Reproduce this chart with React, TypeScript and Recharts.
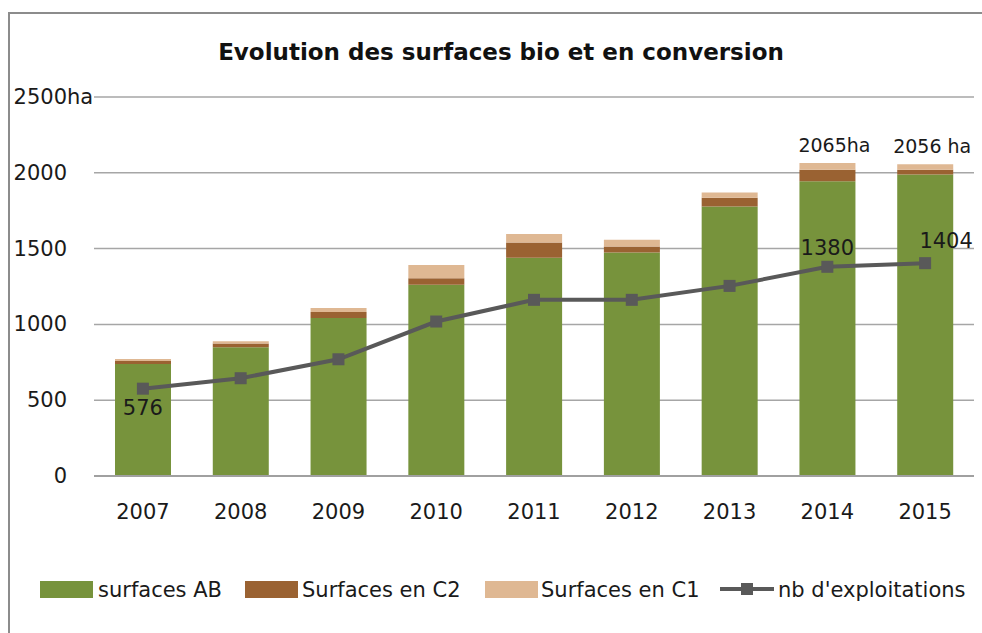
import React from 'react';
import { ComposedChart, Bar, Line, XAxis, YAxis, CartesianGrid, LabelList } from 'recharts';

const categories = ['2007', '2008', '2009', '2010', '2011', '2012', '2013', '2014', '2015'];
const surfacesAB = [739, 850, 1043, 1261, 1439, 1474, 1778, 1945, 1989];
const surfacesC2 = [20, 24, 39, 44, 101, 40, 57, 75, 31];
const surfacesC1 = [13, 15, 27, 86, 57, 44, 35, 45, 36];
const exploitations = [576, 645, 770, 1019, 1162, 1162, 1254, 1380, 1404];
const lineLabels = ['576', '', '', '', '', '', '', '1380', '1404'];
const totalLabels = ['', '', '', '', '', '', '', '2065ha', '2056 ha'];
const yTicks = [0, 500, 1000, 1500, 2000, 2500];
const seriesNames = ['surfaces AB', 'Surfaces en C2', 'Surfaces en C1', "nb d'exploitations"];

const data = categories.map((c, i) => ({
  year: c,
  ab: surfacesAB[i],
  c2: surfacesC2[i],
  c1: surfacesC1[i],
  nb: exploitations[i],
}));

const FONT = '"DejaVu Sans", sans-serif';
const GREEN = '#77933c';
const BROWN = '#9a6232';
const TAN = '#dfb893';
const LINE = '#595959';
const TEXT = '#1a1a1a';

const YTick = (props: any) => {
  const { y, payload } = props;
  const v = payload.value;
  return (
    <g>
      <text x={67} y={y} textAnchor="end" dominantBaseline="central" fontFamily={FONT} fontSize={21} fill={TEXT}>
        {String(v)}
      </text>
      {v === 2500 ? (
        <text x={67} y={y} textAnchor="start" dominantBaseline="central" fontFamily={FONT} fontSize={21} fill={TEXT}>
          ha
        </text>
      ) : null}
    </g>
  );
};

const XTick = (props: any) => {
  const { x, payload } = props;
  return (
    <text x={x} y={512} textAnchor="middle" dominantBaseline="central" fontFamily={FONT} fontSize={21} fill={TEXT}>
      {payload.value}
    </text>
  );
};

const lineLabelOffset = (i: number) => {
  if (i === 0) return { dx: 0, dy: 19 };
  if (i === categories.length - 1) return { dx: 21, dy: -22 };
  return { dx: 0, dy: -19 };
};

const LineLabel = (props: any) => {
  const { x, y, index } = props;
  const t = lineLabels[index];
  if (!t) return null;
  const o = lineLabelOffset(index);
  return (
    <text x={x + o.dx} y={y + o.dy} textAnchor="middle" dominantBaseline="central" fontFamily={FONT} fontSize={21} fill={TEXT}>
      {t}
    </text>
  );
};

const TotalLabel = (props: any) => {
  const { x, y, width, index } = props;
  const t = totalLabels[index];
  if (!t) return null;
  return (
    <text x={x + width / 2 + 7} y={y - 18} textAnchor="middle" dominantBaseline="central" fontFamily={FONT} fontSize={19} fill={TEXT}>
      {t}
    </text>
  );
};

const SquareDot = (props: any) => {
  const { cx, cy } = props;
  if (cx == null || cy == null) return null;
  return <rect x={cx - 6} y={cy - 6} width={12} height={12} fill={LINE} />;
};

const legendLayout = [
  { swatch: 40, text: 98, color: GREEN, kind: 'bar' },
  { swatch: 245, text: 302, color: BROWN, kind: 'bar' },
  { swatch: 485, text: 541, color: TAN, kind: 'bar' },
  { swatch: 720, text: 778, color: LINE, kind: 'line' },
];

export default function App() {
  return (
    <div style={{ position: 'absolute', left: 0, top: 0, width: 982, height: 633, overflow: 'hidden', background: '#fff' }}>
      <div
        style={{
          position: 'absolute',
          left: 8,
          top: 12,
          width: 1000,
          height: 700,
          borderLeft: '2px solid #8c8c8c',
          borderTop: '2px solid #8c8c8c',
        }}
      />
      <div
        style={{
          position: 'absolute',
          left: 0,
          width: 1002,
          top: 36,
          textAlign: 'center',
          fontFamily: FONT,
          fontWeight: 'bold',
          fontSize: 23,
          lineHeight: '32px',
          color: '#111',
        }}
      >
        Evolution des surfaces bio et en conversion
      </div>
      <div style={{ position: 'absolute', left: 0, top: 0 }}>
        <ComposedChart
          width={982}
          height={633}
          data={data}
          margin={{ top: 97, right: 8, bottom: 0, left: 0 }}
          barSize={56}
        >
          <CartesianGrid vertical={false} stroke="#a6a6a6" strokeWidth={1.5} />
          <XAxis
            dataKey="year"
            height={157}
            axisLine={{ stroke: '#a0a0a0', strokeWidth: 2 }}
            tickLine={false}
            tick={<XTick />}
            interval={0}
          />
          <YAxis
            width={94}
            domain={[0, 2500]}
            ticks={yTicks}
            axisLine={false}
            tickLine={false}
            tick={<YTick />}
            interval={0}
          />
          <Bar dataKey="ab" stackId="s" fill={GREEN} name={seriesNames[0]} isAnimationActive={false} />
          <Bar dataKey="c2" stackId="s" fill={BROWN} name={seriesNames[1]} isAnimationActive={false} />
          <Bar dataKey="c1" stackId="s" fill={TAN} name={seriesNames[2]} isAnimationActive={false}>
            <LabelList content={<TotalLabel />} />
          </Bar>
          <Line
            dataKey="nb"
            type="linear"
            stroke={LINE}
            strokeWidth={4}
            dot={<SquareDot />}
            activeDot={false}
            name={seriesNames[3]}
            isAnimationActive={false}
          >
            <LabelList content={<LineLabel />} />
          </Line>
        </ComposedChart>
      </div>
      {legendLayout.map((l, i) => (
        <div key={i}>
          {l.kind === 'bar' ? (
            <div style={{ position: 'absolute', left: l.swatch, top: 581, width: 53, height: 17, background: l.color }} />
          ) : (
            <svg style={{ position: 'absolute', left: l.swatch, top: 580 }} width={54} height={18}>
              <line x1={0} y1={9} x2={54} y2={9} stroke={LINE} strokeWidth={4} />
              <rect x={21} y={3} width={12} height={12} fill={LINE} />
            </svg>
          )}
          <div
            style={{
              position: 'absolute',
              left: l.text,
              top: 575,
              lineHeight: '30px',
              fontFamily: FONT,
              fontSize: 21,
              color: TEXT,
              whiteSpace: 'nowrap',
            }}
          >
            {seriesNames[i]}
          </div>
        </div>
      ))}
    </div>
  );
}
